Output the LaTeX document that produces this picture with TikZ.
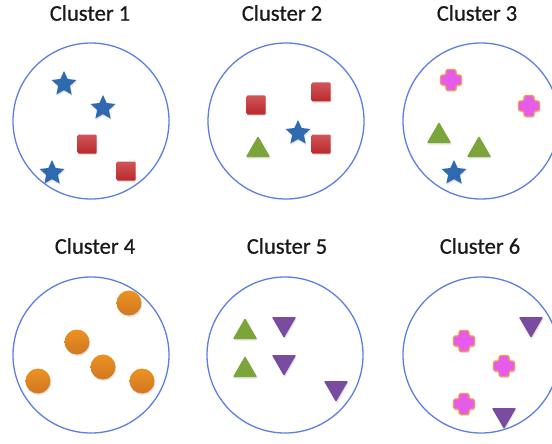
\documentclass[tikz,border=0pt]{standalone}
\usepackage{fontspec}
\setmainfont[FakeBold=0.7]{Carlito}
\usetikzlibrary{shapes.geometric,shadows}
\definecolor{ringblue}{HTML}{5B7FE0}
\definecolor{starblue}{HTML}{2F69B0}
\definecolor{boxred}{HTML}{C42A2E}
\definecolor{leafgreen}{HTML}{7BA53A}
\definecolor{plusfill}{HTML}{E65BEA}
\definecolor{plusedge}{HTML}{F09A5A}
\definecolor{dotorange}{HTML}{E98526}
\definecolor{grape}{HTML}{7A4C9F}
\tikzset{
  soft/.style={drop shadow={opacity=0.22,shadow xshift=0.8pt,shadow yshift=-1.5pt}},
  ring/.style={circle,draw=ringblue,line width=1.3pt,minimum size=156pt,inner sep=0pt},
  title/.style={font=\fontsize{22.5}{24}\selectfont,text=black!90,inner sep=0pt},
  starmark/.style={star,star points=5,star point ratio=2.1,minimum size=26pt,inner sep=0pt,fill=starblue,soft},
  boxmark/.style={rectangle,minimum size=19pt,inner sep=0pt,rounded corners=1pt,top color=boxred!80,bottom color=boxred!95!black,soft},
  upmark/.style={regular polygon,regular polygon sides=3,minimum size=28pt,inner sep=0pt,rounded corners=1pt,fill=leafgreen,soft},
  downmark/.style={regular polygon,regular polygon sides=3,shape border rotate=180,minimum size=28pt,inner sep=0pt,rounded corners=1pt,fill=grape,soft},
  dotmark/.style={circle,minimum size=25pt,inner sep=0pt,top color=dotorange!90!yellow,bottom color=dotorange!90!black,soft},
  plusmark/.pic={
    \path[fill=plusfill,draw=plusedge,line width=1.2pt,rounded corners=1.5pt,soft]
      (-5,-10.5) -- (5,-10.5) -- (5,-5) -- (10.5,-5) -- (10.5,5) -- (5,5)
      -- (5,10.5) -- (-5,10.5) -- (-5,5) -- (-10.5,5) -- (-10.5,-5) -- (-5,-5) -- cycle;
  }
}
\begin{document}
\begin{tikzpicture}[x=1pt,y=-1pt]
\useasboundingbox (0,0) rectangle (552,444);
\clip (0,0) rectangle (552,444);

% titles
\node[title] (t1) at (90,13) {Cluster 1};
\node[title] (t2) at (282,13) {Cluster 2};
\node[title] (t3) at (477,13) {Cluster 3};
\node[title] (t4) at (95,246) {Cluster 4};
\node[title] (t5) at (287,246) {Cluster 5};
\node[title] (t6) at (480,246) {Cluster 6};

% cluster rings
\node[ring] (c1) at (91,121) {};
\node[ring] (c2) at (286,121) {};
\node[ring] (c3) at (481,121) {};
\node[ring] (c4) at (91,355) {};
\node[ring] (c5) at (285,355) {};
\node[ring] (c6) at (481,355) {};

% cluster 1
\node[starmark] (s11) at (64,84) {};
\node[starmark] (s12) at (103,108) {};
\node[boxmark] (b11) at (87,144) {};
\node[starmark] (s13) at (52,173) {};
\node[boxmark] (b12) at (126,171) {};

% cluster 2
\node[boxmark] (b21) at (256,105) {};
\node[boxmark] (b22) at (321,92) {};
\node[starmark] (s21) at (298,133) {};
\node[boxmark] (b23) at (321,144) {};
\node[upmark] (u21) at (258,150) {};

% cluster 3
\pic at (451,80) {plusmark};
\pic at (529,106) {plusmark};
\node[upmark] (u31) at (439,136) {};
\node[upmark] (u32) at (479,150) {};
\node[starmark] (s31) at (454,173) {};

% cluster 4
\node[dotmark] (d41) at (129,303) {};
\node[dotmark] (d42) at (77,342) {};
\node[dotmark] (d43) at (103,367) {};
\node[dotmark] (d44) at (38,381) {};
\node[dotmark] (d45) at (142,381) {};

% cluster 5
\node[upmark] (u51) at (245,332) {};
\node[upmark] (u52) at (245,370) {};
\node[downmark] (v51) at (284,324) {};
\node[downmark] (v52) at (284,362) {};
\node[downmark] (v53) at (336,388) {};

% cluster 6
\node[downmark] (v61) at (531,324) {};
\pic at (464,341) {plusmark};
\pic at (504,366) {plusmark};
\pic at (464,404) {plusmark};
\node[downmark] (v62) at (504,415) {};
\end{tikzpicture}
\end{document}
